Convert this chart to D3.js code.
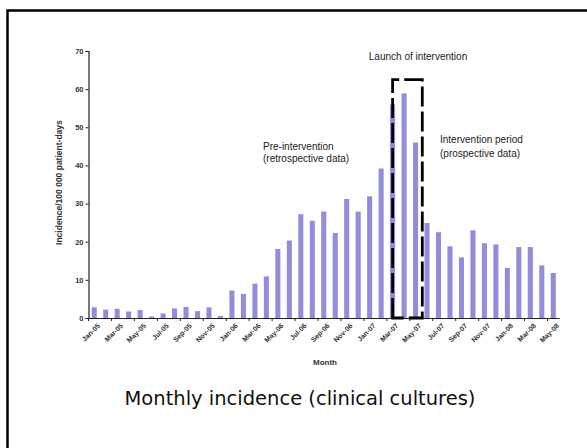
<!DOCTYPE html>
<html>
<head>
<meta charset="utf-8">
<script src="https://cdn.jsdelivr.net/npm/d3@7"></script>
<style>
  body { margin: 0; background: #fff; }
  svg { display: block; }
</style>
</head>
<body>
<div id="chart"></div>
<script>
// monthly incidence, Jan-05 .. May-08
const months = [
    "Jan-05", "Feb-05", "Mar-05", "Apr-05", "May-05", "Jun-05", "Jul-05", "Aug-05", "Sep-05", "Oct-05", "Nov-05", "Dec-05",
    "Jan-06", "Feb-06", "Mar-06", "Apr-06", "May-06", "Jun-06", "Jul-06", "Aug-06", "Sep-06", "Oct-06", "Nov-06", "Dec-06",
    "Jan-07", "Feb-07", "Mar-07", "Apr-07", "May-07", "Jun-07", "Jul-07", "Aug-07", "Sep-07", "Oct-07", "Nov-07", "Dec-07",
    "Jan-08", "Feb-08", "Mar-08", "Apr-08", "May-08"
];
const incidence = [
    2.8, 2.2, 2.4, 1.7, 2.1, 0.4, 1.2, 2.5, 2.9, 1.8, 2.8, 0.5,
    7.2, 6.3, 9.0, 10.9, 18.1, 20.3, 27.2, 25.5, 27.9, 22.3, 31.2, 27.9,
    31.9, 39.2, 56.0, 58.9, 46.0, 24.9, 22.5, 18.8, 15.9, 23.0, 19.6, 19.3,
    13.1, 18.6, 18.6, 13.8, 11.8
];
const yTicks = [0, 10, 20, 30, 40, 50, 60, 70];
const xLabels = months.filter((m, i) => i % 2 === 0);

const width = 587;
const height = 448;
const font = "'Liberation Sans', Arial, sans-serif";
const barColour = "#918cdb";

let svg = d3.select("#chart").append("svg")
    .attr("width", width)
    .attr("height", height);

// frame (only the top and left edges show)
svg.append("path")
    .attr("d", `M7.5,${height} V10.5 H${width}`)
    .attr("fill", "none")
    .attr("stroke", "#000")
    .attr("stroke-width", 2.5);

// x axis setup
const x = d3.scaleBand()
    .domain(months)
    .range([88.5, 559]);
const bw = x.bandwidth();

// y axis setup
const y = d3.scaleLinear()
    .domain([0, 70])
    .range([318, 51]);

// bars
svg.append("g")
    .selectAll("rect")
    .data(months)
    .enter()
    .append("rect")
    .attr("fill", barColour)
    .attr("x", (d, i) => x(d) + bw * 0.28)
    .attr("width", bw * 0.44)
    .attr("y", (d, i) => y(incidence[i]))
    .attr("height", (d, i) => y(0) - y(incidence[i]));

// insert the y axis
svg.append("g")
    .attr("transform", "translate(88.5, 0)")
    .style("font-family", font)
    .style("font-size", "7.5px")
    .attr("font-weight", 700)
    .call(d3.axisLeft(y)
        .tickValues(yTicks)
        .tickSize(3)
        .tickPadding(2)
    )
    .call(g => g.select(".domain").attr("stroke", "#222").attr("stroke-width", 1.2))
    .call(g => g.selectAll(".tick line").attr("stroke", "#222"))
    .call(g => g.selectAll(".tick text").attr("fill", "#333"));

// insert the x axis, ticks sit on category boundaries
svg.append("g")
    .attr("transform", `translate(0, ${y(0)})`)
    .style("font-family", font)
    .style("font-size", "7px")
    .attr("font-weight", 700)
    .call(d3.axisBottom(x)
        .tickValues(xLabels)
        .tickSize(3)
        .tickSizeOuter(0)
    )
    .call(g => g.select(".domain").attr("stroke", "#222").attr("stroke-width", 1.2))
    .call(g => g.selectAll(".tick line")
        .attr("stroke", "#222")
        .attr("transform", `translate(${-bw / 2}, 0)`))
    .call(g => g.selectAll(".tick text")
        .attr("fill", "#333")
        .attr("text-anchor", "end")
        .attr("dy", 0)
        .attr("transform", "translate(2, 4) rotate(-45)"));

// axis titles
svg.append("text")
    .attr("transform", `translate(62, ${y(35.5)}) rotate(-90)`)
    .attr("text-anchor", "middle")
    .style("font-family", font)
    .style("font-size", "8.5px")
    .attr("font-weight", 700)
    .attr("fill", "#333")
    .text("Incidence/100 000 patient-days");

svg.append("text")
    .attr("x", 325)
    .attr("y", 365)
    .attr("text-anchor", "middle")
    .style("font-family", font)
    .style("font-size", "8px")
    .attr("font-weight", 700)
    .attr("fill", "#333")
    .text("Month");

// dashed box round the launch months
const boxTop = 62.5;
const bx1 = x("Mar-07") + bw / 2;
const bx2 = x("May-07") + bw + 1;
svg.append("path")
    .attr("d", `M${bx1},${y(0)} V${y(boxTop)} H${bx2} V${y(0)} Z`)
    .attr("fill", "none")
    .attr("stroke", "#000")
    .attr("stroke-width", 2.8)
    .attr("stroke-dasharray", "20,5");

// annotations
const notes = svg.append("g")
    .style("font-family", font)
    .style("font-size", "10px")
    .attr("fill", "#222");

notes.append("text")
    .attr("x", 418)
    .attr("y", 60)
    .attr("text-anchor", "middle")
    .text("Launch of intervention");

notes.append("text")
    .attr("x", 263)
    .attr("y", 150)
    .text("Pre-intervention");
notes.append("text")
    .attr("x", 263)
    .attr("y", 162)
    .text("(retrospective data)");

notes.append("text")
    .attr("x", 440)
    .attr("y", 143)
    .text("Intervention period");
notes.append("text")
    .attr("x", 440)
    .attr("y", 157)
    .text("(prospective data)");

// caption
svg.append("text")
    .attr("x", 300)
    .attr("y", 405)
    .attr("text-anchor", "middle")
    .style("font-family", "'DejaVu Sans', Verdana, sans-serif")
    .style("font-size", "19.5px")
    .attr("fill", "#111")
    .text("Monthly incidence (clinical cultures)");
</script>
</body>
</html>
